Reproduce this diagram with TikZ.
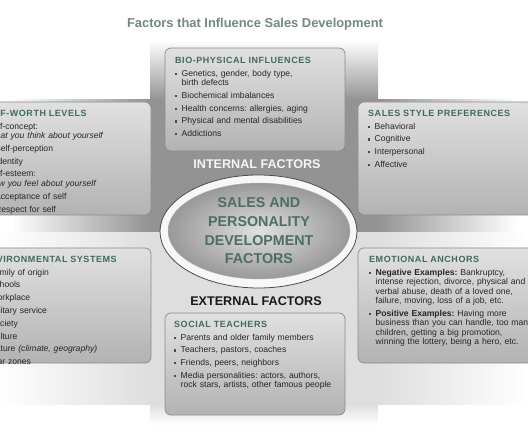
\documentclass[tikz,border=0pt]{standalone}
\usepackage{fontspec}
\setmainfont{Liberation Sans}
\newfontfamily\headfont[LetterSpace=6]{Liberation Sans}
\usetikzlibrary{shapes.geometric}
\frenchspacing

\definecolor{titlegreen}{HTML}{6E8A82}
\definecolor{headgreen}{HTML}{3F6B5C}
\definecolor{coregreen}{HTML}{4C6F64}
\definecolor{bandgray}{HTML}{939393}
\definecolor{bandlight}{HTML}{DEDEDE}

\newcommand{\sqbullet}{\raisebox{1.3pt}{\color{black!70}\rule{2.2pt}{2.2pt}}}
\newcommand{\fitem}[1]{\par\vspace{3.3pt}\noindent\hangindent=6.5pt\hangafter=1\makebox[6.5pt][l]{\sqbullet}#1\par}
\newcommand{\sitem}[1]{\par\vspace{3.3pt}\noindent\hangindent=14pt\hangafter=1\hspace*{7.5pt}\makebox[6.5pt][l]{\sqbullet}#1\par}
\newcommand{\fhead}[1]{{\headfont\bfseries\fontsize{9}{9.5}\selectfont\color{headgreen}#1}\par}

\begin{document}
\begin{tikzpicture}[
    x=1pt, y=-1pt,
    panel/.style={rectangle, rounded corners=6pt, draw=black!45, line width=0.7pt,
        top color=black!12, bottom color=black!30, inner sep=0pt},
    boxtext/.style={anchor=north west, inner sep=0pt, text width=230pt, align=left,
        font=\fontsize{8.6}{9.5}\selectfont, text=black!85},
    factorlabel/.style={inner sep=0pt, font=\fontsize{12.6}{14}\selectfont\bfseries},
    ]

    \useasboundingbox (0,0) rectangle (528,441);
    \clip (0,0) rectangle (528,441);

    % backdrop
    \fill[bandlight] (150,232) rectangle (378,404);
    \shade[left color=white, right color=bandlight] (0,232) rectangle (150,404);
    \shade[left color=bandlight, right color=white] (378,232) rectangle (528,404);
    \shade[top color=bandlight, bottom color=white] (150,404) rectangle (378,425);
    \fill[bandgray] (150,100) rectangle (378,232);
    \shade[left color=white, right color=bandgray] (10,100) rectangle (150,232);
    \shade[left color=bandgray, right color=white] (378,100) rectangle (518,232);
    \shade[top color=white, bottom color=bandgray] (150,40) rectangle (378,100);

    \node[anchor=base, text=titlegreen, font=\fontsize{12.9}{15}\selectfont\bfseries] (title)
        at (255,27.5) {Factors that Influence Sales Development};

    % panels
    \node[panel, minimum width=180pt, minimum height=103pt] (bio) at (255,99.5) {};
    \node[panel, minimum width=191pt, minimum height=113pt] (selfworth) at (55.5,158.5) {};
    \node[panel, minimum width=212pt, minimum height=113pt] (sales) at (464,158.5) {};
    \node[panel, minimum width=191pt, minimum height=115pt] (environment) at (55.5,305.5) {};
    \node[panel, minimum width=212pt, minimum height=115pt] (emotional) at (464,305.5) {};
    \node[panel, minimum width=180pt, minimum height=102pt] (social) at (255,364) {};

    \node[factorlabel, text=white!96!black] (internal) at (257,164.5) {INTERNAL FACTORS};
    \node[factorlabel, text=black!90] (external) at (256,301) {EXTERNAL FACTORS};

    % centre
    \node[ellipse, fill=white!97!black, draw=black!70, line width=0.8pt,
        minimum width=197pt, minimum height=113pt] (ring) at (258.5,231.5) {};
    \node[ellipse, inner sep=0pt, inner color=black!12, outer color=black!40, draw=black!30,
        minimum width=182pt, minimum height=96pt, align=center, text=coregreen,
        font=\fontsize{14.3}{18.7}\selectfont\bfseries] (core) at (259,231)
        {SALES AND\\PERSONALITY\\DEVELOPMENT\\FACTORS};

    \node[boxtext] (bioText) at (175,56.8) {\fhead{BIO-PHYSICAL INFLUENCES}
        \fitem{Genetics, gender, body type,\newline birth defects}
        \fitem{Biochemical imbalances}
        \fitem{Health concerns: allergies, aging}
        \fitem{Physical and mental disabilities}
        \fitem{Addictions}};

    \node[boxtext] (selfworthText) at (-19,109.8) {\fhead{SELF-WORTH LEVELS}
        \fitem{Self-concept:\newline\textit{What you think about yourself}}
        \sitem{Self-perception}
        \sitem{Identity}
        \fitem{Self-esteem:\newline\textit{How you feel about yourself}}
        \sitem{Acceptance of self}
        \sitem{Respect for self}};

    \node[boxtext] (salesText) at (368,109.8) {\fhead{SALES STYLE PREFERENCES}
        \fitem{Behavioral}
        \fitem{Cognitive}
        \fitem{Interpersonal}
        \fitem{Affective}};

    \node[boxtext] (environmentText) at (-17,255.8) {\fhead{ENVIRONMENTAL SYSTEMS}
        \fitem{Family of origin}
        \fitem{Schools}
        \fitem{Workplace}
        \fitem{Military service}
        \fitem{Society}
        \fitem{Culture}
        \fitem{Nature \textit{(climate, geography)}}
        \fitem{War zones}};

    \node[boxtext] (emotionalText) at (369,255.8) {\fhead{EMOTIONAL ANCHORS}
        \fitem{\textbf{Negative Examples:} Bankruptcy,\newline intense rejection, divorce, physical and\newline
            verbal abuse, death of a loved one,\newline failure, moving, loss of a job, etc.}
        \fitem{\textbf{Positive Examples:} Having more\newline business than you can handle, too many\newline
            children, getting a big promotion,\newline winning the lottery, being a hero, etc.}};

    \node[boxtext] (socialText) at (174,320.8) {\fhead{SOCIAL TEACHERS}
        \fitem{Parents and older family members}
        \fitem{Teachers, pastors, coaches}
        \fitem{Friends, peers, neighbors}
        \fitem{Media personalities: actors, authors,\newline rock stars, artists, other famous people}};

\end{tikzpicture}
\end{document}
